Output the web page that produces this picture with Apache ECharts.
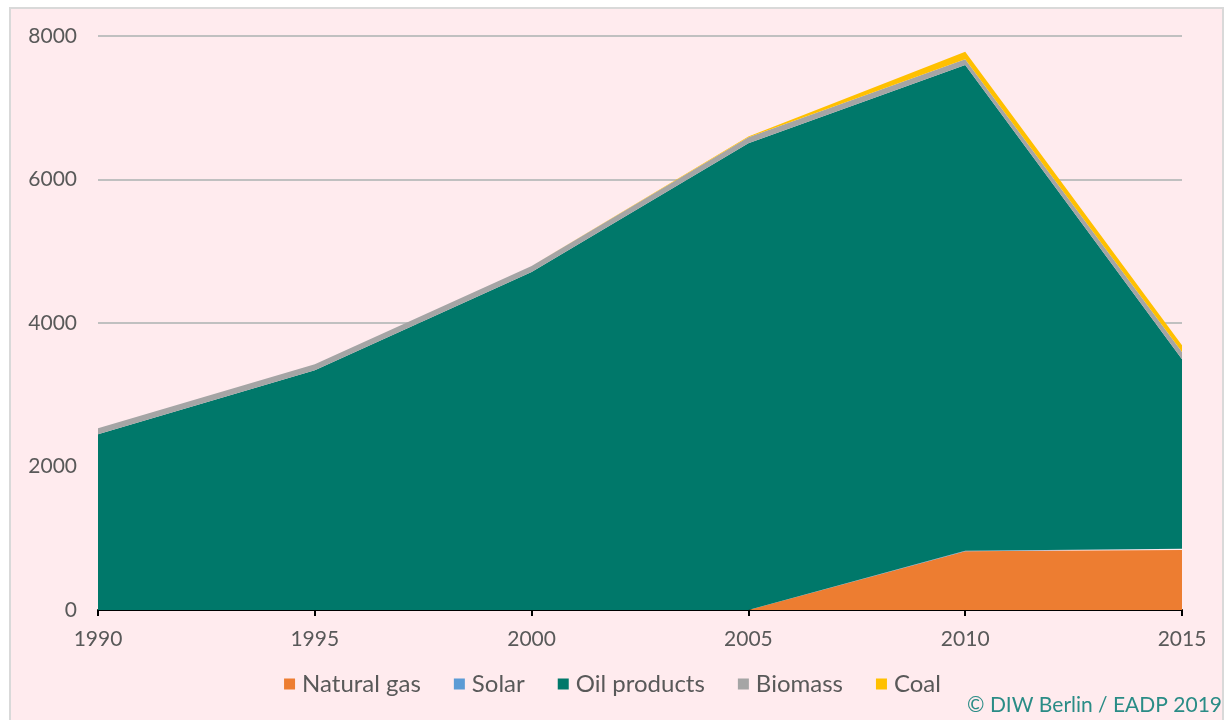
<!DOCTYPE html>
<html>
<head>
<meta charset="utf-8">
<script src="https://cdn.jsdelivr.net/npm/echarts@6/dist/echarts.min.js"></script>
<style>
html,body{margin:0;padding:0;background:#ffffff;}
#chart{width:1225px;height:720px;}
</style>
</head>
<body>
<div id="chart"></div>
<script>
const years = ['1990', '1995', '2000', '2005', '2010', '2015'];
const naturalGas = [0, 0, 0, 0, 820, 836];
const solar = [0, 0, 0, 0, 5, 18];
const oilProducts = [2450, 3340, 4710, 6505, 6770, 2642];
const biomass = [82, 85, 85, 85, 82, 100];
const coal = [0, 0, 0, 8, 105, 95];
const yTicks = [0, 2000, 4000, 6000, 8000];

const font = 'Lato, "Open Sans", sans-serif';
const chart = echarts.init(document.getElementById('chart'), null, {renderer: 'canvas'});

function area(name, data, color) {
  return {
    name: name, type: 'line', stack: 'total', data: data,
    symbol: 'none', smooth: false,
    lineStyle: {width: 0},
    areaStyle: {color: color, opacity: 1},
    itemStyle: {color: color},
    emphasis: {disabled: true}
  };
}

chart.setOption({
  animation: false,
  backgroundColor: '#ffffff',
  graphic: [
    {type: 'rect', z: -10, shape: {x: 10, y: 8, width: 1213, height: 720},
     style: {fill: '#FFEBEE', stroke: '#D9D9D9', lineWidth: 2}},
    {type: 'text', right: 3, top: 695,
     style: {text: '© DIW Berlin / EADP 2019', fill: '#2A8C86', font: '21px ' + font}}
  ],
  grid: {left: 98, right: 43, top: 36, bottom: 110, containLabel: false},
  legend: {
    top: 667, left: 'center', itemWidth: 11, itemHeight: 11, itemGap: 33,
    icon: 'rect',
    textStyle: {color: '#595959', fontSize: 24, fontFamily: font, padding: [0, 0, 0, 2]},
    data: ['Natural gas', 'Solar', 'Oil products', 'Biomass', 'Coal']
  },
  xAxis: {
    type: 'category', data: years, boundaryGap: false,
    axisLine: {lineStyle: {color: '#000000', width: 2}},
    axisTick: {show: true, length: 6, lineStyle: {color: '#000000', width: 2}},
    axisLabel: {color: '#595959', fontSize: 21, fontFamily: font, margin: 19},
    splitLine: {show: false}
  },
  yAxis: {
    type: 'value', min: yTicks[0], max: yTicks[yTicks.length - 1], interval: 2000,
    axisLine: {show: false}, axisTick: {show: false},
    axisLabel: {color: '#595959', fontSize: 21, fontFamily: font, margin: 21,
                formatter: function (v) { return String(v); }},
    splitLine: {lineStyle: {color: '#C0C0C0', width: 2}}
  },
  series: [
    area('Natural gas', naturalGas, '#ED7D31'),
    area('Solar', solar, '#5B9BD5'),
    area('Oil products', oilProducts, '#00786A'),
    area('Biomass', biomass, '#A5A5A5'),
    area('Coal', coal, '#FFC000')
  ]
});
</script>
</body>
</html>
